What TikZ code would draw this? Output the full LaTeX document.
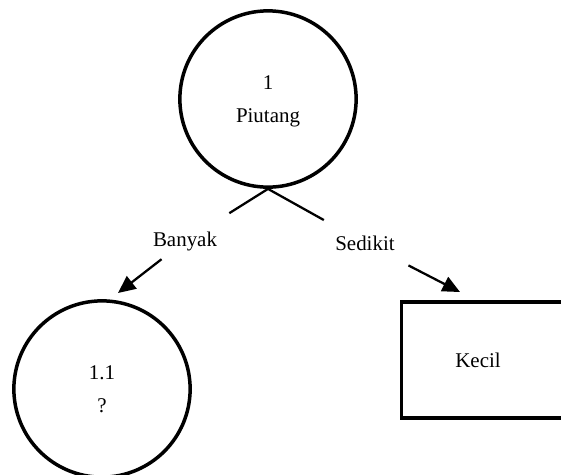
\documentclass[tikz,border=0pt]{standalone}
\usepackage{fontspec}
\setmainfont{Liberation Serif}
\usetikzlibrary{arrows.meta}

\begin{document}
\begin{tikzpicture}[x=0.573pt, y=-0.573pt,
  font=\fontsize{12}{14}\selectfont,
  proses/.style={draw, circle, line width=2pt, minimum size=101pt, align=center},
  kotak/.style={draw, rectangle, line width=2pt, minimum width=110pt, minimum height=66.5pt},
  garis/.style={line width=1.3pt},
  panah/.style={line width=1.3pt, -{Triangle[length=10pt, width=9pt]}}]
  \clip (0,0) rectangle (561,474);

  % Root
  \node[proses] (piutang) at (268,99) {\\[-3pt]1\\[5pt]Piutang};

  % Branch labels
  \node (banyak) at (185,241) {Banyak};
  \node (sedikit) at (365,243) {Sedikit};
  \coordinate (ujungkiri) at (118,293);
  \coordinate (ujungkanan) at (460,292);

  % Children
  \node[proses] (sub) at (102,389) {1.1\\[5pt]?};
  \node[kotak, anchor=west] (kecil) at (400,360) {};
  \node (teks) at (478,360) {Kecil};

  % Connectors
  \draw[garis, shorten >=30pt] (piutang.south) -- (banyak.center);
  \draw[panah, shorten <=17pt] (banyak.center) -- (ujungkiri);
  \draw[garis, shorten >=27pt] (piutang.south) -- (sedikit.center);
  \draw[panah, shorten <=28pt] (sedikit.center) -- (ujungkanan);
\end{tikzpicture}
\end{document}
